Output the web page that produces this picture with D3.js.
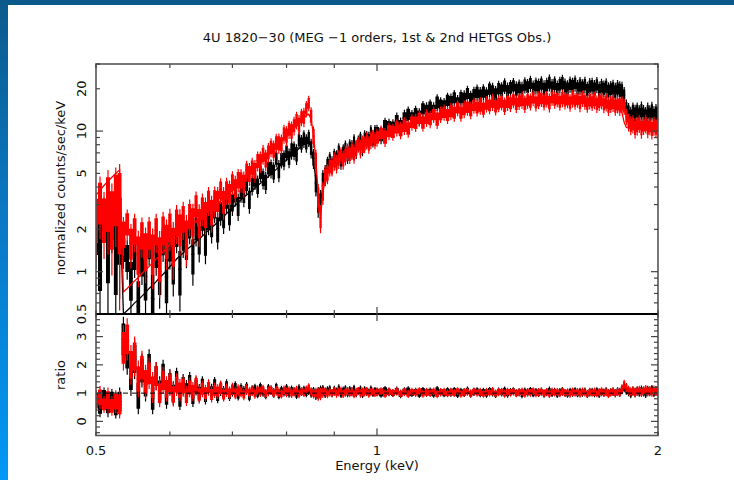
<!DOCTYPE html>
<html><head><meta charset="utf-8">
<script src="https://cdn.jsdelivr.net/npm/d3@7"></script>
<style>
body{margin:0;background:#fff}
svg{display:block}
text{font-family:"DejaVu Sans",sans-serif;fill:#111}
</style>
</head><body>
<svg id="c" width="734" height="480"></svg>
<script>
// ---------------- DATA ----------------
const title = "4U 1820\u221230 (MEG \u22121 orders, 1st & 2nd HETGS Obs.)";
const xLabel = "Energy (keV)";
const yLabelTop = "normalized counts/sec/keV";
const yLabelBottom = "ratio";

// bin centres (keV)
const energy = [
0.500,0.505,0.510,0.515,0.520,0.525,0.530,0.535,0.540,0.545,
0.550,0.555,0.560,0.565,0.570,0.575,0.580,0.585,0.590,0.595,
0.600,0.605,0.610,0.615,0.620,0.625,0.630,0.635,0.640,0.645,
0.650,0.655,0.660,0.665,0.670,0.675,0.680,0.685,0.690,0.695,
0.700,0.705,0.710,0.715,0.720,0.725,0.730,0.735,0.740,0.745,
0.750,0.755,0.760,0.765,0.770,0.775,0.780,0.785,0.790,0.795,
0.800,0.805,0.810,0.815,0.820,0.825,0.830,0.835,0.840,0.845,
0.850,0.855,0.860,0.865,0.870,0.875,0.880,0.885,0.890,0.895,
0.900,0.905,0.910,0.915,0.920,0.925,0.930,0.935,0.940,0.945,
0.950,0.955,0.960,0.965,0.970,0.975,0.980,0.985,0.990,0.995,
1.00,1.01,1.02,1.03,1.04,1.05,1.06,1.07,1.08,1.09,
1.10,1.11,1.12,1.13,1.14,1.15,1.16,1.17,1.18,1.19,
1.20,1.21,1.22,1.23,1.24,1.25,1.26,1.27,1.28,1.29,
1.30,1.31,1.32,1.33,1.34,1.35,1.36,1.37,1.38,1.39,
1.40,1.41,1.42,1.43,1.44,1.45,1.46,1.47,1.48,1.49,
1.50,1.51,1.52,1.53,1.54,1.55,1.56,1.57,1.58,1.59,
1.60,1.61,1.62,1.63,1.64,1.65,1.66,1.67,1.68,1.69,
1.70,1.71,1.72,1.73,1.74,1.75,1.76,1.77,1.78,1.79,
1.80,1.81,1.82,1.83,1.84,1.85,1.86,1.87,1.88,1.89,
1.90,1.91,1.92,1.93,1.94,1.95,1.96,1.97,1.98,1.99,
2.00];

// model (normalized counts/sec/keV), 1st observation (black)
const modelObs1 = [
2.6,2.7,2.8,2.9,3.0,3.1,3.2,0.50,0.53,0.56,
0.60,0.63,0.67,0.71,0.76,0.80,0.85,0.91,0.96,1.02,
1.09,1.15,1.23,1.30,1.36,1.43,1.49,1.56,1.64,1.71,
1.79,1.88,1.97,2.06,2.15,2.25,2.36,2.47,2.59,2.71,
2.83,2.97,3.10,3.25,3.38,3.51,3.64,3.79,3.93,4.09,
4.25,4.41,4.58,4.76,4.95,5.14,5.34,5.55,5.77,5.99,
6.23,6.47,6.72,6.98,7.25,7.53,7.80,8.05,8.25,8.30,
7.60,6.10,4.50,3.10,3.00,4.10,4.90,5.30,5.55,5.75,
5.95,6.10,6.25,6.40,6.55,6.70,6.85,7.00,7.15,7.30,
7.45,7.62,7.80,7.98,8.16,8.34,8.52,8.70,8.88,9.06,
9.25,9.6,9.95,10.3,10.65,11.0,11.35,11.7,12.05,12.4,
12.75,13.1,13.4,13.7,14.0,14.3,14.6,14.9,15.2,15.5,
15.8,16.05,16.3,16.55,16.8,17.05,17.3,17.5,17.7,17.9,
18.1,18.3,18.5,18.7,18.85,19.0,19.15,19.3,19.45,19.6,
19.7,19.8,19.9,20.0,20.1,20.2,20.25,20.3,20.35,20.4,
20.45,20.5,20.5,20.55,20.55,20.6,20.6,20.6,20.6,20.6,
20.55,20.55,20.5,20.5,20.45,20.4,20.35,20.3,20.25,20.2,
20.1,20.05,20.0,19.9,19.8,19.7,19.6,19.5,19.4,19.3,
19.2,19.1,19.0,17.5,15.0,13.3,13.1,13.05,13.0,12.95,
12.9,12.85,12.8,12.75,12.7,12.65,12.6,12.55,12.5,12.45,
12.4];

// model, 2nd observation (red)
const modelObs2 = [
3.5,3.8,4.1,4.4,4.7,5.0,5.3,0.72,0.76,0.81,
0.86,0.91,0.97,1.03,1.09,1.16,1.23,1.30,1.38,1.47,
1.56,1.65,1.75,1.85,1.93,2.01,2.10,2.19,2.28,2.38,
2.48,2.59,2.70,2.82,2.94,3.06,3.19,3.33,3.47,3.62,
3.78,3.94,4.11,4.29,4.48,4.69,4.90,5.12,5.36,5.60,
5.86,6.12,6.40,6.70,7.00,7.32,7.66,8.00,8.37,8.75,
9.15,9.56,10.0,10.45,10.9,11.4,11.9,12.4,12.9,13.2,
12.2,9.4,6.2,3.6,2.5,3.6,4.6,5.1,5.4,5.6,
5.8,5.95,6.1,6.25,6.4,6.55,6.7,6.85,7.0,7.15,
7.3,7.45,7.6,7.75,7.9,8.05,8.2,8.35,8.5,8.65,
8.8,9.05,9.3,9.55,9.8,10.05,10.3,10.55,10.8,11.05,
11.3,11.55,11.8,12.0,12.2,12.4,12.6,12.8,13.0,13.2,
13.4,13.55,13.7,13.85,14.0,14.15,14.3,14.45,14.6,14.7,
14.8,14.9,15.0,15.1,15.2,15.3,15.4,15.5,15.6,15.7,
15.8,15.85,15.9,15.95,16.0,16.05,16.1,16.15,16.2,16.25,
16.3,16.3,16.35,16.35,16.4,16.4,16.4,16.4,16.4,16.4,
16.35,16.35,16.3,16.3,16.25,16.2,16.15,16.1,16.05,16.0,
15.95,15.9,15.85,15.8,15.7,15.6,15.5,15.4,15.3,15.2,
15.1,15.0,14.9,13.5,11.5,10.6,10.55,10.5,10.45,10.4,
10.35,10.3,10.25,10.2,10.15,10.1,10.05,10.0,9.95,9.9,
9.85];

// data / model ratio, 1st observation (black)
const ratioObs1 = [
0.75,0.55,0.9,0.6,0.8,0.5,0.7,2.9,2.4,1.6,
2.2,0.9,1.8,1.3,2.0,0.8,1.6,1.1,1.7,0.9,
1.4,1.0,1.5,0.8,1.3,1.1,1.4,0.85,1.25,1.0,
1.3,0.9,1.2,1.05,1.3,0.9,1.15,1.0,1.25,0.95,
1.1,1.2,0.95,1.15,1.05,1.2,0.9,1.1,1.15,1.0,
1.2,1.05,0.95,1.15,1.1,1.0,1.2,0.95,1.1,1.05,
1.15,1.0,1.1,1.05,0.95,1.15,1.05,1.1,1.0,1.08,
1.0,1.05,0.95,1.0,1.05,1.1,1.0,1.08,1.12,1.0,
1.1,1.05,1.15,0.98,1.08,1.12,1.0,1.1,1.05,1.15,
1.0,1.08,1.12,0.98,1.1,1.05,1.02,1.12,1.0,1.08,
1.05,0.98,1.1,1.04,1.0,1.08,0.96,1.06,1.1,1.0,
1.04,0.97,1.08,1.02,1.06,0.98,1.1,1.03,0.99,1.07,
1.02,1.08,0.97,1.05,1.01,1.09,0.98,1.04,1.07,1.0,
1.05,0.98,1.08,1.03,0.97,1.06,1.02,1.09,0.99,1.04,
1.07,1.0,1.03,0.97,1.06,1.02,1.08,0.99,1.04,1.01,
1.06,0.98,1.03,1.08,1.0,1.05,0.97,1.04,1.07,1.01,
0.98,1.05,1.02,1.07,0.99,1.04,1.01,1.06,0.97,1.03,
1.05,1.0,1.07,0.98,1.04,1.02,1.06,0.99,1.03,1.05,
1.0,1.06,1.03,1.12,1.2,1.1,1.05,0.98,1.07,1.02,
1.08,1.03,1.1,1.04,1.0,1.09,1.05,1.12,1.03,1.08,
1.06];

// data / model ratio, 2nd observation (red)
const ratioObs2 = [
0.7,0.85,0.6,0.75,0.55,0.7,0.6,2.6,2.9,2.0,
2.3,1.5,1.9,1.4,1.7,1.2,1.6,1.0,1.45,1.15,
1.35,0.95,1.3,1.1,1.25,0.9,1.2,1.05,1.3,0.95,
1.15,1.0,1.2,0.95,1.1,1.05,1.2,0.95,1.1,1.0,
1.15,1.0,1.1,1.05,0.95,1.12,1.02,1.08,0.98,1.1,
1.04,1.12,0.98,1.06,1.1,1.0,1.08,1.03,0.97,1.1,
1.02,1.08,1.0,1.05,1.1,0.98,1.06,1.02,1.12,1.2,
1.05,0.98,1.0,0.95,0.97,1.02,1.05,0.98,1.04,1.0,
1.06,0.99,1.04,1.08,0.98,1.03,1.07,1.0,1.05,0.97,
1.04,1.08,0.99,1.05,1.02,1.07,0.98,1.04,1.06,1.0,
1.03,1.07,0.98,1.05,1.01,1.06,0.99,1.04,0.97,1.05,
1.02,1.07,0.98,1.04,1.0,1.06,0.97,1.03,1.05,0.99,
1.04,1.0,1.07,0.98,1.03,1.05,0.99,1.06,1.01,1.04,
0.98,1.05,1.02,1.07,0.99,1.03,1.05,0.98,1.04,1.01,
1.06,0.99,1.03,1.05,0.98,1.04,1.01,1.07,0.99,1.03,
1.05,1.0,1.04,0.98,1.06,1.02,1.04,0.99,1.05,1.01,
1.03,0.98,1.05,1.01,1.04,0.99,1.06,1.02,0.98,1.04,
1.01,1.05,0.99,1.03,1.06,1.0,1.04,0.98,1.02,1.05,
1.0,1.04,1.02,1.15,1.3,1.2,1.1,1.05,1.08,1.02,
1.06,1.1,1.03,1.08,1.12,1.05,1.09,1.04,1.1,1.07,
1.05];

// 1-sigma error on the ratio (same binning)
const ratioErr = [
0.35,0.4,0.3,0.45,0.35,0.4,0.5,0.8,0.75,0.7,
0.7,0.65,0.6,0.6,0.55,0.55,0.5,0.5,0.48,0.45,
0.45,0.42,0.4,0.4,0.38,0.36,0.35,0.34,0.33,0.32,
0.3,0.3,0.28,0.28,0.27,0.26,0.25,0.25,0.24,0.23,
0.22,0.22,0.21,0.2,0.2,0.19,0.19,0.18,0.18,0.18,
0.18,0.18,0.17,0.17,0.17,0.17,0.17,0.17,0.16,0.17,
0.17,0.16,0.17,0.16,0.16,0.16,0.15,0.16,0.15,0.15,
0.16,0.17,0.19,0.22,0.22,0.19,0.17,0.16,0.16,0.15,
0.16,0.15,0.16,0.15,0.15,0.16,0.15,0.15,0.16,0.15,
0.15,0.14,0.15,0.15,0.14,0.15,0.14,0.15,0.14,0.14,
0.15,0.14,0.15,0.15,0.14,0.15,0.14,0.15,0.14,0.14,
0.15,0.14,0.14,0.15,0.14,0.14,0.15,0.14,0.14,0.14,
0.15,0.14,0.14,0.14,0.15,0.14,0.14,0.14,0.14,0.15,
0.14,0.14,0.14,0.15,0.14,0.14,0.14,0.14,0.15,0.14,
0.14,0.14,0.14,0.15,0.14,0.14,0.14,0.14,0.14,0.15,
0.14,0.14,0.14,0.15,0.14,0.14,0.14,0.14,0.15,0.14,
0.14,0.14,0.15,0.14,0.14,0.15,0.14,0.14,0.14,0.15,
0.14,0.15,0.14,0.15,0.15,0.14,0.15,0.15,0.14,0.15,
0.15,0.15,0.16,0.16,0.17,0.16,0.16,0.16,0.16,0.17,
0.16,0.16,0.17,0.16,0.17,0.17,0.16,0.17,0.17,0.17,
0.17];

// axis ticks
const xMajorTicks = [1];
const xMinorTicks = [0.5,0.6,0.7,0.8,0.9,2];
const xTickLabels = [0.5,1,2];
const yTopMajorTicks = [1,10];
const yTopMinorTicks = [0.6,0.7,0.8,0.9,2,3,4,5,6,7,8,9,20,30];
const yTopTickLabels = [0.5,1,2,5,10,20];
const yBotMajorTicks = [0,1,2,3];
const yBotMinorTicks = [-0.4,-0.2,0.2,0.4,0.6,0.8,1.2,1.4,1.6,1.8,2.2,2.4,2.6,2.8,3.2,3.4,3.6];
const yBotTickLabels = [0,1,2,3];

[modelObs1,modelObs2,ratioObs1,ratioObs2,ratioErr].forEach((a,k)=>{
  if(a.length!==energy.length) throw new Error("array "+k+" length "+a.length+" vs "+energy.length);
});

// ---------------- DRAW ----------------
const W=734,H=480;
const L=96,R=658,T=64,MID=314,B=435.5;
const svg=d3.select("#c");
const defs=svg.append("defs");
const grad=defs.append("linearGradient").attr("id","lb").attr("x1",0).attr("y1",0).attr("x2",0).attr("y2",1);
grad.append("stop").attr("offset","0").attr("stop-color","#0b5a8c");
grad.append("stop").attr("offset","0.45").attr("stop-color","#0a78c4");
grad.append("stop").attr("offset","1").attr("stop-color","#0098f5");
defs.append("clipPath").attr("id","clipT").append("rect").attr("x",L).attr("y",T).attr("width",R-L).attr("height",MID-T);
defs.append("clipPath").attr("id","clipB").append("rect").attr("x",L).attr("y",MID).attr("width",R-L).attr("height",B-MID);

svg.append("rect").attr("width",W).attr("height",H).attr("fill","#fff");
svg.append("rect").attr("x",0).attr("y",0).attr("width",8).attr("height",H).attr("fill","url(#lb)");
svg.append("rect").attr("x",0).attr("y",0).attr("width",W).attr("height",5).attr("fill","#0b5a8c");

const x=d3.scaleLog().domain([0.5,2]).range([L,R]);
const yT=d3.scaleLog().domain([0.5,30]).range([MID,T]);
const yB=d3.scaleLinear().domain([-0.5,3.8]).range([B,MID]);

// bin edges
const n=energy.length;
const edges=energy.map((e,i)=>{
  const lo = i===0 ? e-(energy[1]-energy[0])/2 : (energy[i-1]+e)/2;
  const hi = i===n-1 ? e+(e-energy[n-2])/2 : (energy[i+1]+e)/2;
  return [lo,hi];
});

function bounds(model,ratio,i,top,k){
  const m = top ? model[i] : 1;
  let lo=(ratio[i]-k*ratioErr[i])*m, hi=(ratio[i]+k*ratioErr[i])*m;
  if(top) lo=Math.max(lo,0.05);
  return [lo,hi,ratio[i]*m];
}
function barsPath(model, ratio, yScale, top){
  let p="";
  energy.forEach((e,i)=>{
    const [lo,hi,v]=bounds(model,ratio,i,top,1);
    const cx=x(e);
    p+="M"+cx.toFixed(2)+","+yScale(lo).toFixed(2)+"V"+yScale(hi).toFixed(2);
    p+="M"+x(edges[i][0]).toFixed(2)+","+yScale(v).toFixed(2)+"H"+x(edges[i][1]).toFixed(2);
  });
  return p;
}
function coreArea(model, ratio, yScale, top){
  const pts=[];
  energy.forEach((e,i)=>{
    const [lo,hi]=bounds(model,ratio,i,top,0.7);
    pts.push({x:x(edges[i][0]),y0:yScale(lo),y1:yScale(hi)});
    pts.push({x:x(edges[i][1]),y0:yScale(lo),y1:yScale(hi)});
  });
  return d3.area().x(d=>d.x).y0(d=>d.y0).y1(d=>d.y1)(pts);
}

const gT=svg.append("g").attr("clip-path","url(#clipT)");
const gB=svg.append("g").attr("clip-path","url(#clipB)");
const series=[{model:modelObs1,ratio:ratioObs1,color:"#000"},{model:modelObs2,ratio:ratioObs2,color:"#ff0000"}];
const modelLine=d3.line().x((d,i)=>x(energy[i])).y(d=>yT(d));
series.forEach(s=>{
  gT.append("path").attr("d",coreArea(s.model,s.ratio,yT,true)).attr("fill",s.color).attr("stroke","none");
  gT.append("path").attr("d",barsPath(s.model,s.ratio,yT,true)).attr("fill","none").attr("stroke",s.color).attr("stroke-width",1.2);
  gT.append("path").attr("d",modelLine(s.model)).attr("fill","none").attr("stroke",s.color).attr("stroke-width",1.3);
  gB.append("path").attr("d",coreArea(s.model,s.ratio,yB,false)).attr("fill",s.color).attr("stroke","none");
  gB.append("path").attr("d",barsPath(s.model,s.ratio,yB,false)).attr("fill","none").attr("stroke",s.color).attr("stroke-width",1.2);
});
// unity line in ratio panel
gB.append("line").attr("x1",L).attr("x2",R).attr("y1",yB(1)).attr("y2",yB(1))
  .attr("stroke","#000").attr("stroke-width",1).attr("stroke-dasharray","5,4");

// frames
const fr=svg.append("g").attr("fill","none").attr("stroke","#555").attr("stroke-width",1.6);
fr.append("rect").attr("x",L).attr("y",T).attr("width",R-L).attr("height",MID-T);
fr.append("rect").attr("x",L).attr("y",MID).attr("width",R-L).attr("height",B-MID);
svg.append("line").attr("x1",L).attr("x2",R).attr("y1",MID).attr("y2",MID).attr("stroke","#000").attr("stroke-width",2);

// ticks
const tk=svg.append("g").attr("stroke","#444").attr("stroke-width",1.2);
const MAJ=7, MIN=4;
function xTicks(vals,len){
  vals.forEach(v=>{
    const px=x(v);
    [[T,1],[MID,-1],[MID,1],[B,-1]].forEach(([y0,dir])=>{
      tk.append("line").attr("x1",px).attr("x2",px).attr("y1",y0).attr("y2",y0+dir*len);
    });
  });
}
xTicks(xMajorTicks,MAJ); xTicks(xMinorTicks,MIN);
function yTicks(vals,scale,len){
  vals.forEach(v=>{
    const py=scale(v);
    tk.append("line").attr("x1",L).attr("x2",L+len).attr("y1",py).attr("y2",py);
    tk.append("line").attr("x1",R).attr("x2",R-len).attr("y1",py).attr("y2",py);
  });
}
yTicks(yTopMajorTicks,yT,MAJ); yTicks(yTopMinorTicks,yT,MIN);
yTicks(yBotMajorTicks,yB,MAJ); yTicks(yBotMinorTicks,yB,MIN);

// labels
const fs=13;
svg.append("text").attr("x",377).attr("y",42).attr("text-anchor","middle").attr("font-size",fs).text(title);
xTickLabels.forEach(v=>{
  svg.append("text").attr("x",x(v)).attr("y",455).attr("text-anchor","middle").attr("font-size",fs).text(v);
});
svg.append("text").attr("x",377).attr("y",470).attr("text-anchor","middle").attr("font-size",fs).text(xLabel);
yTopTickLabels.forEach(v=>{
  svg.append("text").attr("transform",`translate(86,${yT(v)}) rotate(-90)`).attr("text-anchor","middle").attr("font-size",fs).text(v);
});
yBotTickLabels.forEach(v=>{
  svg.append("text").attr("transform",`translate(86,${yB(v)}) rotate(-90)`).attr("text-anchor","middle").attr("font-size",fs).text(v);
});
svg.append("text").attr("transform",`translate(65,188) rotate(-90)`).attr("text-anchor","middle").attr("font-size",fs).text(yLabelTop);
svg.append("text").attr("transform",`translate(65,375) rotate(-90)`).attr("text-anchor","middle").attr("font-size",fs).text(yLabelBottom);
</script>
</body></html>
